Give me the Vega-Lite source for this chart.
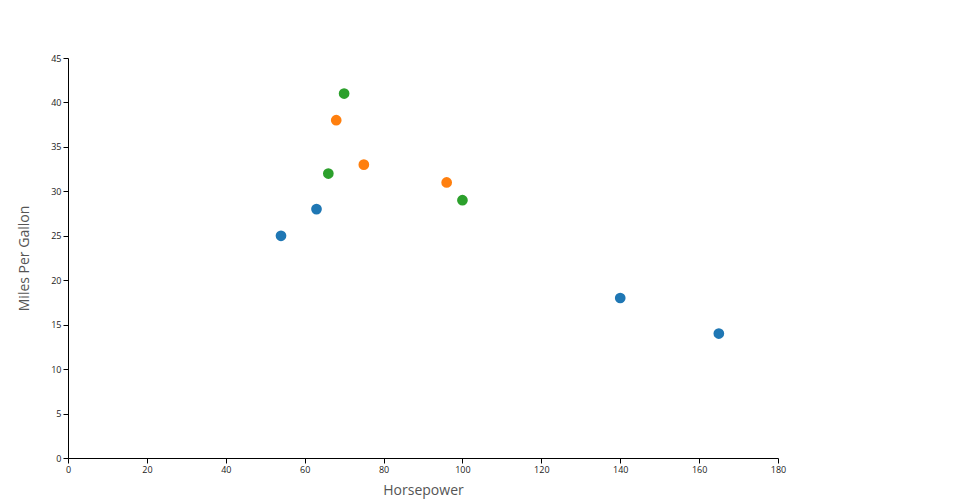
{
  "$schema": "https://vega.github.io/schema/vega-lite/v6.json",
  "width": 710,
  "height": 400,
  "autosize": "none",
  "padding": {"left": 68, "top": 58, "right": 182, "bottom": 42},
  "background": "white",
  "config": {"view": {"stroke": null}, "font": "Open Sans"},
  "data": {"values": [
    {"hp": 54, "mpg": 25, "group": "A"},
    {"hp": 63, "mpg": 28, "group": "A"},
    {"hp": 140, "mpg": 18, "group": "A"},
    {"hp": 165, "mpg": 14, "group": "A"},
    {"hp": 68, "mpg": 38, "group": "B"},
    {"hp": 75, "mpg": 33, "group": "B"},
    {"hp": 96, "mpg": 31, "group": "B"},
    {"hp": 70, "mpg": 41, "group": "C"},
    {"hp": 66, "mpg": 32, "group": "C"},
    {"hp": 100, "mpg": 29, "group": "C"}
  ]},
  "mark": {"type": "circle", "size": 115, "opacity": 1},
  "encoding": {
    "x": {"field": "hp", "type": "quantitative", "title": "Horsepower",
      "scale": {"domain": [0, 180], "nice": false},
      "axis": {"grid": false, "values": [0,20,40,60,80,100,120,140,160,180], "labelFlush": false, "domainColor": "black", "tickColor": "black", "labelFontSize": 9, "labelColor": "#222", "titleFontSize": 14, "titleFontWeight": "normal", "titleColor": "#555", "titlePadding": 9, "labelFont": "Open Sans", "titleFont": "Open Sans"}},
    "y": {"field": "mpg", "type": "quantitative", "title": "Miles Per Gallon",
      "scale": {"domain": [0, 45], "nice": false},
      "axis": {"grid": false, "values": [0,5,10,15,20,25,30,35,40,45], "labelFlush": false, "domainColor": "black", "tickColor": "black", "labelFontSize": 9, "labelColor": "#222", "titleFontSize": 14, "titleFontWeight": "normal", "titleColor": "#555", "titlePadding": 19, "labelFont": "Open Sans", "titleFont": "Open Sans"}},
    "color": {"field": "group", "type": "nominal", "legend": null,
      "scale": {"domain": ["A","B","C"], "range": ["#1f77b4", "#ff7f0e", "#2ca02c"]}}
  }
}
